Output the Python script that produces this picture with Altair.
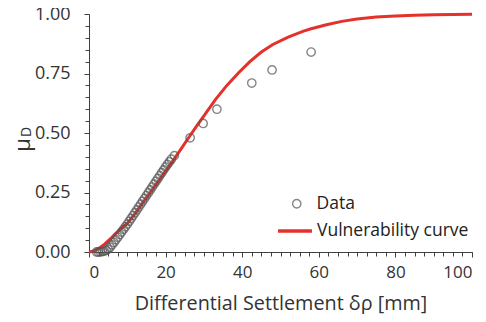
import altair as alt
import pandas as pd

# Observed data points (differential settlement [mm], mu_D)
data_x = [2.0, 2.5, 3.0, 3.5, 4.0, 4.5, 5.0, 5.5, 6.0, 6.5, 7.0, 7.5, 8.0, 8.5,
          9.0, 9.5, 10.0, 10.5, 11.0, 11.5, 12.0, 12.5, 13.0, 13.5, 14.0, 14.5,
          15.0, 15.5, 16.0, 16.5, 17.0, 17.5, 18.0, 18.5, 19.0, 19.5, 20.0,
          20.5, 21.0, 21.5, 22.3, 26.4, 29.8, 33.4, 42.5, 47.8, 58.0]
data_y = [0.0, 0.0, 0.001, 0.002, 0.004, 0.007, 0.012, 0.02, 0.03, 0.04, 0.051,
          0.062, 0.073, 0.084, 0.095, 0.106, 0.117, 0.129, 0.141, 0.153, 0.165,
          0.177, 0.189, 0.201, 0.213, 0.225, 0.237, 0.249, 0.261, 0.273, 0.285,
          0.297, 0.309, 0.321, 0.333, 0.345, 0.357, 0.368, 0.379, 0.39, 0.405,
          0.48, 0.54, 0.60, 0.71, 0.765, 0.84]

# Vulnerability curve
curve_x = [0, 1, 2, 3, 4, 5, 6, 7, 8, 10, 12, 14, 16, 18, 20, 22, 24, 26, 28,
           30, 33, 36, 39, 42, 45, 48, 52, 56, 58, 62, 66, 70, 75, 80, 85, 90,
           95, 100]
curve_y = [0.0, 0.003, 0.01, 0.02, 0.032, 0.047, 0.062, 0.078, 0.093, 0.12,
           0.16, 0.205, 0.25, 0.295, 0.34, 0.385, 0.432, 0.48, 0.527, 0.572,
           0.64, 0.70, 0.752, 0.80, 0.84, 0.872, 0.903, 0.928, 0.938, 0.955,
           0.969, 0.979, 0.987, 0.992, 0.995, 0.997, 0.998, 0.999]

x_major = [0, 20, 40, 60, 80, 100]
y_major = [0.0, 0.25, 0.5, 0.75, 1.0]
x_minor = [i * 2.5 for i in range(41)]
y_minor = [round(i * 0.05, 2) for i in range(21)]

FONT = "Open Sans"
AX = "#404040"

pts = pd.DataFrame({"x": data_x, "y": data_y, "s": "Data"})
crv = pd.DataFrame({"x": curve_x, "y": curve_y, "s": "Vulnerability curve"})

xs = alt.Scale(domain=[0, 100], nice=False, zero=False)
ys = alt.Scale(domain=[0, 1], nice=False, zero=False)

main_x_axis = alt.Axis(values=x_major, title="Differential Settlement δρ [mm]",
                       titleFontSize=19.8, titleFont=FONT, titleFontWeight="normal",
                       titleColor="#333", titlePadding=13, labelFont=FONT,
                       labelFontSize=17, labelColor="#333", labelPadding=7,
                       domainColor=AX, tickColor=AX, tickSize=5, grid=False,
                       orient="bottom")
main_y_axis = alt.Axis(values=y_major, format=".2f", title=None,
                       labelFont=FONT, labelFontSize=18, labelColor="#333",
                       labelPadding=14, domainColor=AX, tickColor=AX, tickSize=5,
                       grid=False, orient="left")

line = alt.Chart(crv).mark_line(strokeWidth=3, clip=False).encode(
    x=alt.X("x:Q", scale=xs, axis=main_x_axis),
    y=alt.Y("y:Q", scale=ys, axis=main_y_axis),
    stroke=alt.Stroke("s:N", scale=alt.Scale(range=["#e5312b"]),
                      legend=alt.Legend(orient="none", legendX=187, legendY=198,
                                        title=None, labelFont=FONT, labelFontSize=17.5,
                                        labelColor="#222", symbolSize=1150,
                                        symbolStrokeWidth=3.5, labelOffset=3,
                                        padding=0)),
)

points = alt.Chart(pts).mark_point(shape="circle", filled=False, size=70,
                                   strokeWidth=1.4, clip=False).encode(
    x=alt.X("x:Q", scale=xs, axis=None),
    y=alt.Y("y:Q", scale=ys, axis=None),
    color=alt.Color("s:N", scale=alt.Scale(range=["#555555"]),
                    legend=alt.Legend(orient="none", legendX=199, legendY=181,
                                      title=None, labelFont=FONT, labelFontSize=17.5,
                                      labelColor="#222", symbolSize=70,
                                      symbolStrokeWidth=1.4, labelOffset=11,
                                      padding=0)),
)

minor = alt.Chart(crv).mark_line(opacity=0).encode(
    x=alt.X("x:Q", scale=xs, axis=alt.Axis(values=x_minor, labels=False, domain=False,
                                           tickSize=4, tickColor=AX, title=None,
                                           grid=False, orient="bottom")),
    y=alt.Y("y:Q", scale=ys, axis=alt.Axis(values=y_minor, labels=False, domain=False,
                                           tickSize=4, tickColor=AX, title=None,
                                           grid=False, orient="left")),
)

mu = alt.Chart(pd.DataFrame({"t": ["μ"]})).mark_text(
    font=FONT, fontSize=22, angle=270, color="#333", baseline="middle", align="center"
).encode(text="t:N", x=alt.value(-66), y=alt.value(131))

sub = alt.Chart(pd.DataFrame({"t": ["D"]})).mark_text(
    font=FONT, fontSize=14, angle=270, color="#333", baseline="middle", align="center"
).encode(text="t:N", x=alt.value(-62), y=alt.value(118))

chart = alt.layer(line, points, minor, mu, sub).resolve_scale(
    color="independent", stroke="independent"
).resolve_axis(x="independent", y="independent").properties(
    width=383, height=238,
    autosize=alt.AutoSizeParams(type="none"),
    padding={"left": 81, "top": 6, "right": 6, "bottom": 62},
).configure_view(stroke=None)

chart.save("out.html", embed_options={"renderer": "svg", "actions": False})
